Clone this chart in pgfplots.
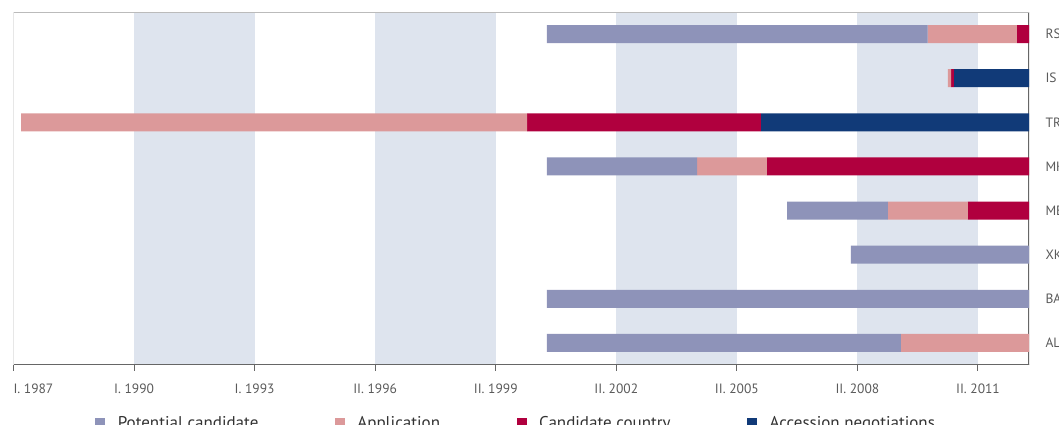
\documentclass[border=0pt]{standalone}
\usepackage{pgfplots}
\usepackage{pgfplotstable}
\pgfplotsset{compat=1.18}
\usepackage{fontspec}
\setmainfont{PT Sans}
\definecolor{cPot}{HTML}{8E93B9}
\definecolor{cApp}{HTML}{DC999A}
\definecolor{cCand}{HTML}{B0003E}
\definecolor{cNeg}{HTML}{113A78}
\definecolor{cBand}{HTML}{DEE4EE}
\definecolor{cFrame}{HTML}{BBBBBB}
\definecolor{cAx}{HTML}{666666}
\definecolor{cTick}{HTML}{5A5A5A}
\definecolor{cLeg}{HTML}{333333}
% y: 0=AL ... 7=RS ; start in years, durations in years
\pgfplotstableread{
y start pot app cand neg
0 2000.27 8.81 3.19 0 0
1 2000.27 12.00 0 0 0
2 2007.84 4.43 0 0 0
3 2006.25 2.51 1.99 1.52 0
4 2000.27 3.74 1.74 6.52 0
5 1987.19 0 12.59 5.82 6.67
6 2010.25 0 0.08 0.07 1.87
7 2000.27 9.48 2.22 0.30 0
}\datatable
\pgfplotsset{common/.style={
  at={(13.5pt,60pt)}, anchor=south west,
  scale only axis, width=1015.5pt, height=353pt,
  xmin=0, xmax=25.27, ymin=-0.5, ymax=7.5}}
\begin{document}
\begin{tikzpicture}
% background bands
\begin{axis}[common, hide axis]
\fill[cBand] (axis cs:3,-0.5) rectangle (axis cs:6,7.5);
\fill[cBand] (axis cs:9,-0.5) rectangle (axis cs:12,7.5);
\fill[cBand] (axis cs:15,-0.5) rectangle (axis cs:18,7.5);
\fill[cBand] (axis cs:21,-0.5) rectangle (axis cs:24,7.5);
\end{axis}
\begin{axis}[
  common,
  xbar stacked, bar width=18pt,
  axis line style={draw=none},
  tick align=outside,
  xtick pos=left, ytick pos=right,
  xtick={0,3,6,9,12,15,18,21,24},
  xticklabels={\makebox[0pt][l]{I. 1987},I. 1990,I. 1993,II. 1996,II. 1999,II. 2002,II. 2005,II. 2008,II. 2011},
  major tick length=6pt, minor tick length=6pt,
  every tick/.style={cAx, line width=1pt},
  ytick={0,...,7},
  yticklabels={AL,BA,XK,ME,MK,TR,IS,RS},
  ytick style={draw=none},
  yticklabel pos=right,
  minor ytick={-0.5,0.5,...,7.5},
  ticklabel style={font=\fontsize{13.5}{15}\selectfont, text=cTick},
  xticklabel style={yshift=-9pt},
  yticklabel style={anchor=west, xshift=7pt},
  legend columns=4,
  legend style={at={(rel axis cs:0.0803,-0.1643)}, anchor=west, draw=none, fill=none,
    inner sep=0pt, font=\fontsize{17}{20}\selectfont, text=cLeg,
    nodes={inner sep=0pt},
    /tikz/every odd column/.append style={column sep=12.5pt},
    /tikz/every even column/.append style={column sep=76.5pt}},
  legend image code/.code={\fill[#1] (0pt,-5pt) rectangle (10pt,5pt);},
]
\addplot[draw=none, fill=none, forget plot] table[x expr=\thisrow{start}-1987, y=y] {\datatable};
\addplot[draw=none, fill=cPot] table[x=pot, y=y] {\datatable};
\addplot[draw=none, fill=cApp] table[x=app, y=y] {\datatable};
\addplot[draw=none, fill=cCand] table[x=cand, y=y] {\datatable};
\addplot[draw=none, fill=cNeg] table[x=neg, y=y] {\datatable};
\legend{Potential candidate, Application, Candidate country, Accession negotiations}
\draw[cFrame, line width=1.2pt] (rel axis cs:0,0) -- (rel axis cs:0,1) -- (rel axis cs:1,1);
\draw[cAx, line width=1.3pt] (rel axis cs:0,0) -- ([xshift=6pt]rel axis cs:1,0);
\draw[cAx, line width=1.3pt] (rel axis cs:1,0) -- (rel axis cs:1,1);
\end{axis}
\pgfresetboundingbox
\useasboundingbox (0,0) rectangle (1059pt,425pt);
\end{tikzpicture}
\end{document}
